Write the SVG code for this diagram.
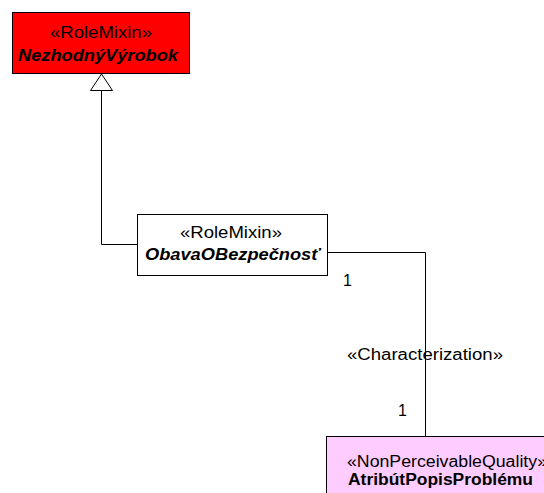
<svg xmlns="http://www.w3.org/2000/svg" width="544" height="493" viewBox="0 0 544 493">
  <style>
    .box { stroke: #000; stroke-width: 1; }
    .st { font-family: "Liberation Sans", Arial, sans-serif; font-size: 16px; fill: #000; }
    .nm { font-family: "Liberation Sans", Arial, sans-serif; font-size: 16px; font-weight: bold; fill: #000; }
    .it { font-style: italic; }
    .ln { fill: none; stroke: #000; stroke-width: 1; }
  </style>
  <rect width="544" height="493" fill="#fff"/>

  <g id="connectors">
    <!-- generalization ObavaOBezpečnost' -> NezhodnýVýrobok -->
    <polyline class="ln" points="137.5,244.5 101.5,244.5 101.5,90"/>
    <polygon points="101.5,74 90.5,90.5 112.5,90.5" fill="#fff" stroke="#000" stroke-width="1"/>
    <!-- characterization association -->
    <polyline class="ln" points="328,252.5 425.5,252.5 425.5,436"/>
    <text class="st" x="343" y="286">1</text>
    <text class="st" x="398" y="416">1</text>
    <text class="st" x="347" y="360" textLength="156" lengthAdjust="spacingAndGlyphs">«Characterization»</text>
  </g>

  <g id="NezhodnyVyrobok">
    <rect class="box" x="12.5" y="12.5" width="177" height="61" fill="#ff0000"/>
    <text class="st" x="50" y="38" textLength="102" lengthAdjust="spacingAndGlyphs">«RoleMixin»</text>
    <text class="nm it" x="18" y="61" textLength="160" lengthAdjust="spacingAndGlyphs">NezhodnýVýrobok</text>
  </g>

  <g id="ObavaOBezpecnost">
    <rect class="box" x="137.5" y="214.5" width="190" height="61" fill="#fff"/>
    <text class="st" x="180" y="238" textLength="102" lengthAdjust="spacingAndGlyphs">«RoleMixin»</text>
    <text class="nm it" x="145" y="260" textLength="175" lengthAdjust="spacingAndGlyphs">ObavaOBezpečnosť</text>
  </g>

  <g id="AtributPopisProblemu">
    <rect class="box" x="326.5" y="436.5" width="240" height="70" fill="#ffccff"/>
    <text class="st" x="347" y="467" textLength="200" lengthAdjust="spacingAndGlyphs">«NonPerceivableQuality»</text>
    <text class="nm" x="348" y="485" textLength="185" lengthAdjust="spacingAndGlyphs">AtribútPopisProblému</text>
  </g>
</svg>
